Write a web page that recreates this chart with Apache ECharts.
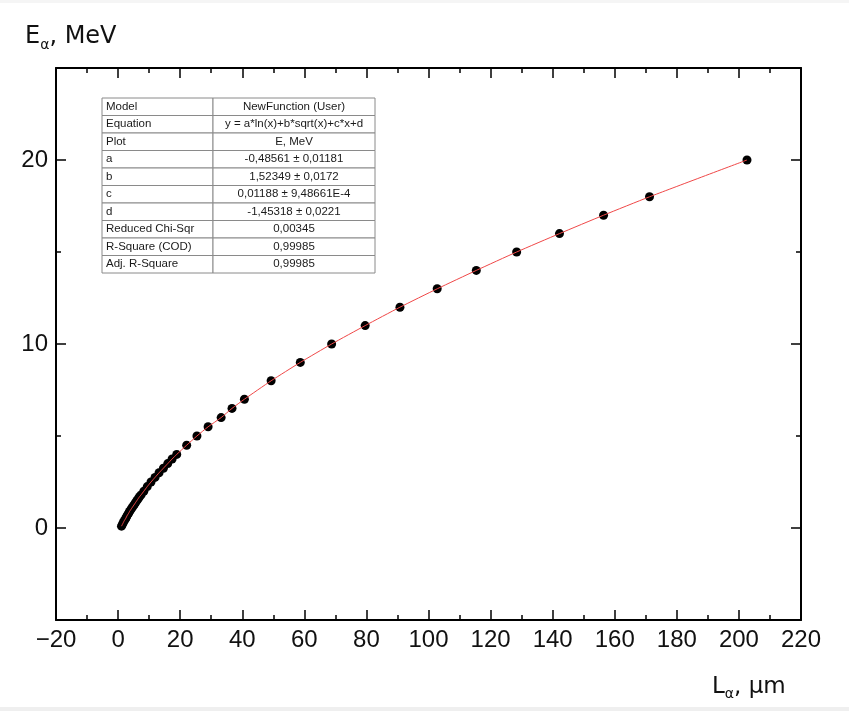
<!DOCTYPE html>
<html>
<head>
<meta charset="utf-8">
<script src="https://cdn.jsdelivr.net/npm/echarts@6/dist/echarts.min.js"></script>
<style>
html,body{margin:0;padding:0;background:#fff;}
#chart{width:849px;height:711px;}
</style>
</head>
<body>
<div id="chart"></div>
<script>
/*数据：能量 E (MeV) 与射程 L (µm)*/
var energy=[0.1,0.2,0.3,0.4,0.5,0.6,0.7,0.8,0.9,1.0,1.1,1.2,1.3,1.4,1.5,1.6,1.7,1.8,2.0,2.25,2.5,2.75,3.0,3.25,3.5,3.75,4.0,4.5,5.0,5.5,6.0,6.5,7.0,8.0,9.0,10,11,12,13,14,15,16,17,18,20];
var range=[1.1,1.4,1.7,2.0,2.4,2.7,3.0,3.4,3.7,4.1,4.5,4.9,5.3,5.7,6.1,6.5,6.9,7.4,8.3,9.4,10.6,11.9,13.2,14.6,16.0,17.4,18.9,22.1,25.4,29.0,33.2,36.7,40.7,49.3,58.7,68.8,79.6,90.8,102.8,115.4,128.4,142.2,156.4,171.2,202.6];
/*刻度*/
var yMajorTicks=[0,10,20];
var yMinorTicks=[5,15];
/*拟合结果表格*/
var tableNames=['Model','Equation','Plot','a','b','c','d','Reduced Chi-Sqr','R-Square (COD)','Adj. R-Square'];
var tableValues=['NewFunction (User)','y = a*ln(x)+b*sqrt(x)+c*x+d','E, MeV','-0,48561 ± 0,01181','1,52349 ± 0,0172','0,01188 ± 9,48661E-4','-1,45318 ± 0,0221','0,00345','0,99985','0,99985'];

var byId=function(id){
    return document.getElementById(id);
};

var points=[];
for(var i=0;i<energy.length;i++){
    points.push([range[i],energy[i]]);
}

/*坐标轴，主刻度和次刻度分开画*/
var makeX=function(pos,interval,len,label,line){
    return {
        type:'value',position:pos,min:-20,max:220,interval:interval,
        axisLine:{show:line,onZero:false,lineStyle:{color:'#000',width:2}},
        axisTick:{show:true,inside:true,length:len,lineStyle:{color:'#000',width:1.5}},
        axisLabel:{show:label,margin:8,fontSize:24,color:'#111',fontFamily:'Liberation Sans',
            formatter:function(v){return String(v).replace('-','\u2212');}},
        splitLine:{show:false}
    };
};
var makeY=function(pos,ticks,len,label,line){
    return {
        type:'value',position:pos,min:-5,max:25,
        axisLine:{show:line,onZero:false,lineStyle:{color:'#000',width:2}},
        axisTick:{show:true,inside:true,length:len,customValues:ticks,lineStyle:{color:'#000',width:1.5}},
        axisLabel:{show:label,margin:8,fontSize:24,color:'#111',fontFamily:'Liberation Sans',customValues:ticks},
        splitLine:{show:false}
    };
};

/*表格图形*/
var tableGraphic=function(){
    var left=102,top=98,w1=111,w2=162,h=17.5;
    var children=[];
    for(var i=0;i<tableNames.length;i++){
        var y=top+i*h;
        children.push({type:'rect',shape:{x:left,y:y,width:w1,height:h},style:{fill:'#fff',stroke:'#8a8a8a',lineWidth:1}});
        children.push({type:'rect',shape:{x:left+w1,y:y,width:w2,height:h},style:{fill:'#fff',stroke:'#8a8a8a',lineWidth:1}});
        children.push({type:'text',x:left+4,y:y+h/2,style:{text:tableNames[i],fill:'#1a1a1a',font:'11.5px "Liberation Sans"',verticalAlign:'middle',align:'left'}});
        children.push({type:'text',x:left+w1+w2/2,y:y+h/2,style:{text:tableValues[i],fill:'#1a1a1a',font:'11.5px "Liberation Sans"',verticalAlign:'middle',align:'center'}});
    }
    return {type:'group',z:100,children:children};
};

var chart=echarts.init(byId('chart'));
chart.setOption({
    backgroundColor:'#fff',
    animation:false,
    grid:{left:56,right:48,top:68,bottom:91},
    xAxis:[
        makeX('bottom',20,10,true,true),
        makeX('bottom',10,5,false,false),
        makeX('top',20,10,false,true),
        makeX('top',10,5,false,false)
    ],
    yAxis:[
        makeY('left',yMajorTicks,10,true,true),
        makeY('left',yMinorTicks,5,false,false),
        makeY('right',yMajorTicks,10,false,true),
        makeY('right',yMinorTicks,5,false,false)
    ],
    graphic:[
        {type:'rect',shape:{x:0,y:0,width:849,height:3},style:{fill:'#f5f5f5'}},
        {type:'rect',shape:{x:0,y:707,width:849,height:4},style:{fill:'#efefef'}},
        {type:'text',left:25,top:25,style:{
            text:'{m|E}{s|α}{m|, MeV}',
            rich:{
                m:{fontSize:24,fontFamily:'DejaVu Sans',fill:'#111',lineHeight:30,verticalAlign:'middle'},
                s:{fontSize:14,fontFamily:'DejaVu Sans',fill:'#111',lineHeight:14,verticalAlign:'bottom'}
            }}},
        {type:'text',left:712,top:676,style:{
            text:'{m|L}{s|α}{m|, µm}',
            rich:{
                m:{fontSize:23,fontFamily:'DejaVu Sans',fill:'#111',lineHeight:28,verticalAlign:'middle'},
                s:{fontSize:14,fontFamily:'DejaVu Sans',fill:'#111',lineHeight:14,verticalAlign:'bottom'}
            }}},
        tableGraphic()
    ],
    series:[
        {
            name:'E, MeV',type:'scatter',xAxisIndex:0,yAxisIndex:0,
            symbolSize:9,itemStyle:{color:'#000',opacity:1},z:2,
            data:points
        },
        {
            name:'fit',type:'line',xAxisIndex:0,yAxisIndex:0,
            showSymbol:false,symbol:'none',smooth:0.2,z:3,
            lineStyle:{color:'#f04848',width:1},
            data:points
        }
    ]
});
</script>
</body>
</html>
